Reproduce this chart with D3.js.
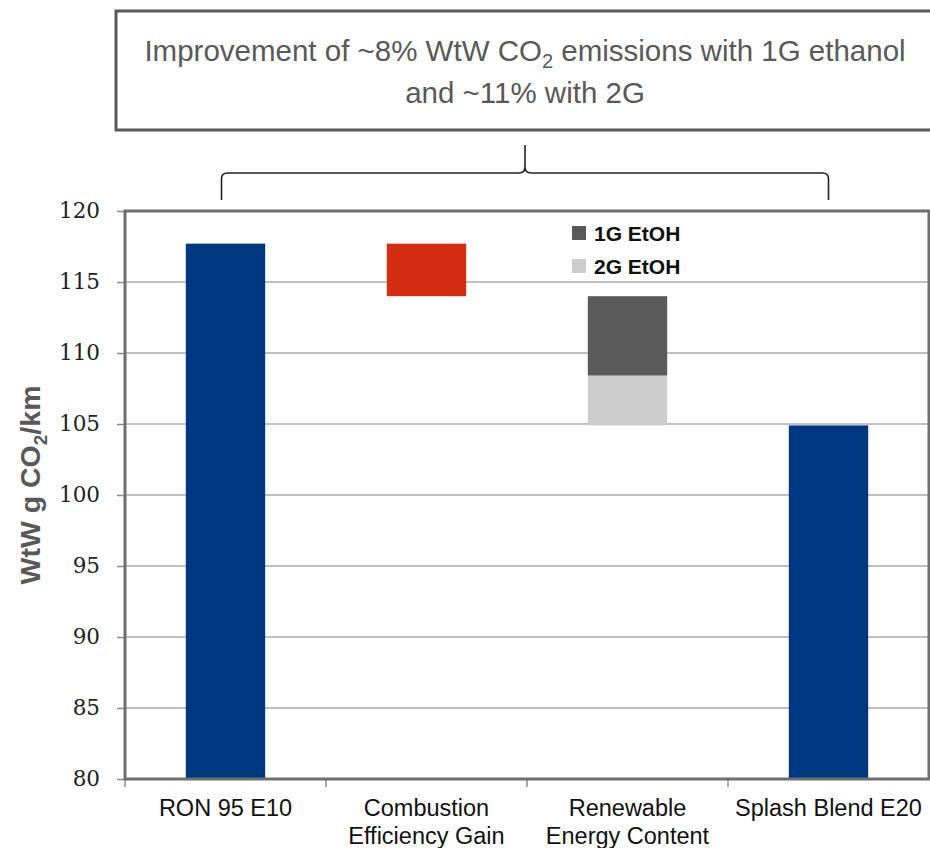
<!DOCTYPE html>
<html>
<head>
<meta charset="utf-8">
<script src="https://cdn.jsdelivr.net/npm/d3@7"></script>
<style>
  html, body { margin: 0; padding: 0; background: #fff; }
  svg { display: block; }
</style>
</head>
<body>
<svg id="chart" width="930" height="848"></svg>
<script>
// Waterfall of well-to-wheel CO2 emissions, E10 -> E20
const categories = ["RON 95 E10", "Combustion Efficiency Gain", "Renewable Energy Content", "Splash Blend E20"];
const categoryLines = [["RON 95 E10"], ["Combustion", "Efficiency Gain"], ["Renewable", "Energy Content"], ["Splash Blend E20"]];

// Full-height bars (g CO2/km)
const totalCategories = ["RON 95 E10", "Splash Blend E20"];
const totalValues = [117.7, 104.9];

// Floating steps: [from, to]
const combustionGain = [117.7, 114.0];
const ethanol1G = [114.0, 108.4];
const ethanol2G = [108.4, 104.9];

const legendLabels = ["1G EtOH", "2G EtOH"];
const yTicks = [80, 85, 90, 95, 100, 105, 110, 115, 120];
const yDomain = [80, 120];

const svg = d3.select("#chart");

const plot = { left: 125, right: 929, top: 211, bottom: 779 };

const x = d3.scaleBand().domain(categories).range([plot.left, plot.right]).padding(0);
const y = d3.scaleLinear().domain(yDomain).range([plot.bottom, plot.top]);
const barW = x.bandwidth() * 0.395;
const barX = c => x(c) + (x.bandwidth() - barW) / 2;

const navy = "#003781", red = "#d42e12", dark = "#5a5a5a", light = "#cdcdcd";
const frameColor = "#6e6e6e", gridColor = "#c0c0c0", textGray = "#595959";

// Gridlines
svg.append("g")
  .selectAll("line")
  .data(yTicks.filter(t => t !== yDomain[0] && t !== yDomain[1]))
  .join("line")
  .attr("x1", plot.left).attr("x2", plot.right)
  .attr("y1", d => y(d)).attr("y2", d => y(d))
  .attr("stroke", gridColor).attr("stroke-width", 2);

// Y axis
const yAxis = svg.append("g")
  .attr("transform", `translate(${plot.left},0)`)
  .call(d3.axisLeft(y).tickValues(yTicks).tickSize(8).tickPadding(17));
yAxis.select(".domain").remove();
yAxis.selectAll(".tick line").attr("stroke", "#8c8c8c").attr("stroke-width", 1.5);
yAxis.selectAll(".tick text")
  .attr("fill", "#222")
  .style("font-family", "'DejaVu Serif', serif")
  .style("font-size", "21.5px");

// X axis ticks at category boundaries
const xBoundaries = categories.map(c => x(c));
svg.append("g")
  .selectAll("line")
  .data(xBoundaries)
  .join("line")
  .attr("x1", d => d).attr("x2", d => d)
  .attr("y1", plot.bottom).attr("y2", plot.bottom + 8)
  .attr("stroke", "#8c8c8c").attr("stroke-width", 1.5);

// Category labels
const xl = svg.append("g")
  .style("font-family", "'Liberation Sans', Arial, sans-serif")
  .style("font-size", "23.5px")
  .attr("fill", "#111")
  .attr("text-anchor", "middle");
categories.forEach((c, i) => {
  const t = xl.append("text").attr("x", x(c) + x.bandwidth() / 2).attr("y", plot.bottom + 37);
  categoryLines[i].forEach((line, j) => {
    t.append("tspan").attr("x", x(c) + x.bandwidth() / 2).attr("dy", j === 0 ? 0 : 28).text(line);
  });
});

// Bars
const bars = svg.append("g");
bars.selectAll("rect.total")
  .data(totalCategories.map((c, i) => ({ c, v: totalValues[i] })))
  .join("rect")
  .attr("class", "total")
  .attr("x", d => barX(d.c))
  .attr("width", barW)
  .attr("y", d => y(d.v))
  .attr("height", d => y(yDomain[0]) - y(d.v))
  .attr("fill", navy);

const steps = [
  { c: categories[1], r: combustionGain, fill: red },
  { c: categories[2], r: ethanol1G, fill: dark },
  { c: categories[2], r: ethanol2G, fill: light }
];
bars.selectAll("rect.step")
  .data(steps)
  .join("rect")
  .attr("class", "step")
  .attr("x", d => barX(d.c))
  .attr("width", barW)
  .attr("y", d => y(d.r[0]))
  .attr("height", d => y(d.r[1]) - y(d.r[0]))
  .attr("fill", d => d.fill);

// Plot frame
svg.append("rect")
  .attr("x", plot.left).attr("y", plot.top)
  .attr("width", plot.right - plot.left).attr("height", plot.bottom - plot.top)
  .attr("fill", "none").attr("stroke", frameColor).attr("stroke-width", 3);

// Legend
const legend = svg.append("g")
  .style("font-family", "'Liberation Sans', Arial, sans-serif")
  .style("font-size", "21px")
  .style("font-weight", "bold");
[dark, light].forEach((col, i) => {
  const ly = 226 + i * 33;
  legend.append("rect").attr("x", 572).attr("y", ly).attr("width", 14).attr("height", 14).attr("fill", col);
  legend.append("text").attr("x", 594).attr("y", ly + 15).attr("fill", "#111").text(legendLabels[i]);
});

// Y axis title
const yt = svg.append("text")
  .attr("transform", `translate(40,${(plot.top + plot.bottom) / 2 - 10}) rotate(-90)`)
  .attr("text-anchor", "middle")
  .attr("fill", textGray)
  .style("font-family", "'Liberation Sans', Arial, sans-serif")
  .style("font-size", "28.5px")
  .style("font-weight", "bold");
yt.append("tspan").text("WtW g CO");
yt.append("tspan").attr("dy", 7).style("font-size", "19px").text("2");
yt.append("tspan").attr("dy", -7).text("/km");

// Callout box
svg.append("rect")
  .attr("x", 116).attr("y", 11).attr("width", 830).attr("height", 119)
  .attr("fill", "#fff").attr("stroke", textGray).attr("stroke-width", 3);

const title = svg.append("g")
  .attr("fill", textGray)
  .attr("text-anchor", "middle")
  .style("font-family", "'Liberation Sans', Arial, sans-serif")
  .style("font-size", "29.5px");
const t1 = title.append("text").attr("x", 525).attr("y", 61);
t1.append("tspan").text("Improvement of ~8% WtW CO");
t1.append("tspan").attr("dy", 7).style("font-size", "20px").text("2");
t1.append("tspan").attr("dy", -7).text(" emissions with 1G ethanol");
title.append("text").attr("x", 525).attr("y", 103).text("and ~11% with 2G");

// Brace spanning the chart
const bL = x(categories[0]) + x.bandwidth() / 2 - 4;
const bR = x(categories[3]) + x.bandwidth() / 2;
const bM = (bL + bR) / 2;
const yBase = 200, yBar = 173, yTip = 145, r = 6;
const brace = d3.path();
brace.moveTo(bL, yBase);
brace.lineTo(bL, yBar + r);
brace.quadraticCurveTo(bL, yBar, bL + r, yBar);
brace.lineTo(bM - r, yBar);
brace.quadraticCurveTo(bM, yBar, bM, yBar - r);
brace.lineTo(bM, yTip);
brace.moveTo(bM, yBar - r);
brace.quadraticCurveTo(bM, yBar, bM + r, yBar);
brace.lineTo(bR - r, yBar);
brace.quadraticCurveTo(bR, yBar, bR, yBar + r);
brace.lineTo(bR, yBase);
svg.append("path")
  .attr("d", brace.toString())
  .attr("fill", "none").attr("stroke", "#222").attr("stroke-width", 1.6);
</script>
</body>
</html>
